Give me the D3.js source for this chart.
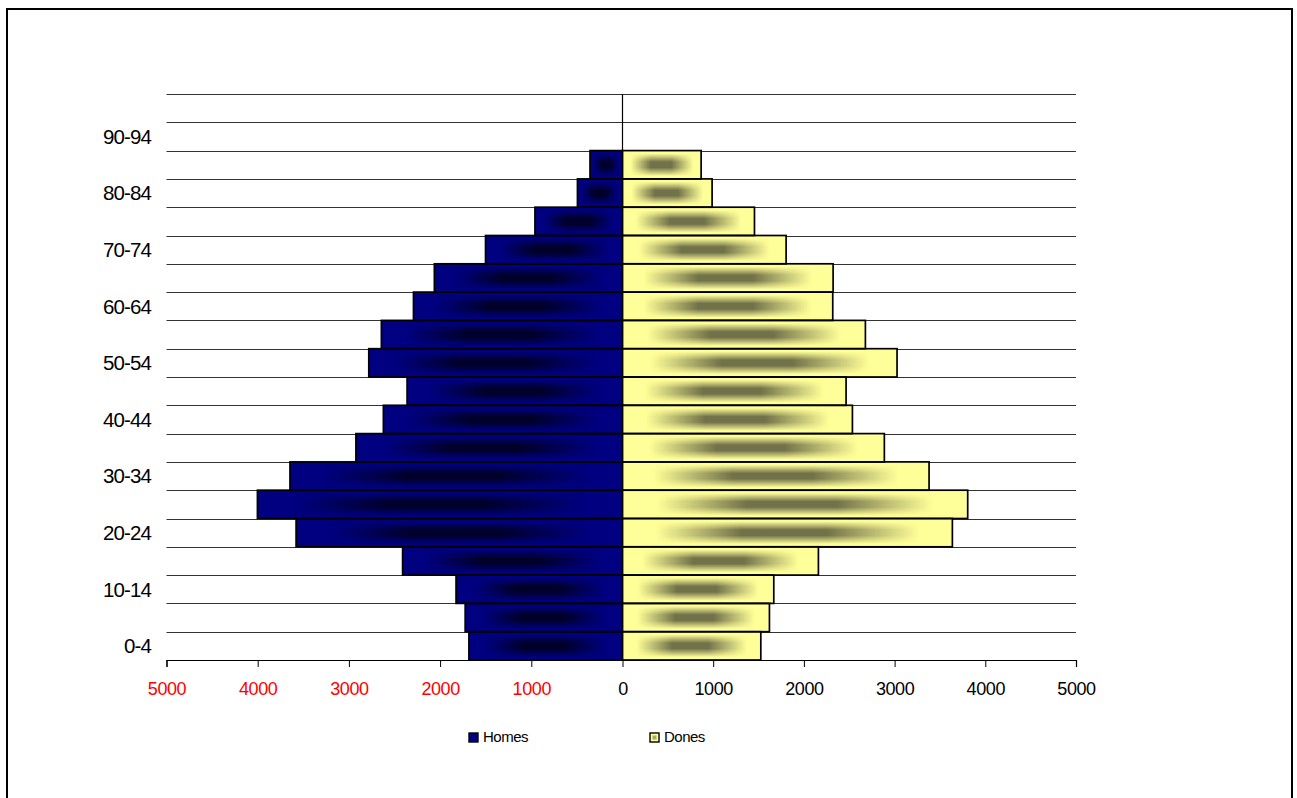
<!DOCTYPE html>
<html>
<head>
<meta charset="utf-8">
<script src="https://cdn.jsdelivr.net/npm/d3@7/dist/d3.min.js"></script>
<style>
  html, body { margin: 0; padding: 0; background: #fff; }
  svg { display: block; font-family: "Liberation Sans", Arial, sans-serif; }
</style>
</head>
<body>
<svg id="chart" width="1297" height="798"></svg>
<script>
// ---- data ----
const ageGroups = ["0-4","5-9","10-14","15-19","20-24","25-29","30-34","35-39","40-44","45-49",
                   "50-54","55-59","60-64","65-69","70-74","75-79","80-84","85-89","90-94","95-99"];
const homes = [1684,1725,1825,2411,3579,4003,3646,2923,2622,2362,2782,2644,2292,2063,1502,960,494,356,0,0];
const dones = [1525,1620,1668,2160,3637,3806,3380,2887,2535,2465,3027,2678,2318,2322,1804,1455,988,867,0,0];
const seriesNames = ["Homes","Dones"];
const xTicks = [-5000,-4000,-3000,-2000,-1000,0,1000,2000,3000,4000,5000];
const shownAgeLabels = ["0-4","10-14","20-24","30-34","40-44","50-54","60-64","70-74","80-84","90-94"];

// ---- layout ----
const svg = d3.select("#chart");
const plot = {left: 166.5, right: 1076, top: 94, bottom: 660};
const x = d3.scaleLinear().domain([-5000, 0, 5000]).range([plot.left, 622.5, plot.right]);
const y = d3.scaleBand().domain(ageGroups.slice().reverse()).range([plot.top, plot.bottom]).padding(0);

const colors = {
  homesBase: "#000080", homesCore: "#00002a",
  donesBase: "#FFFF99", donesCore: "#72724a"
};

// outer frame
svg.append("rect").attr("x", 7).attr("y", 9).attr("width", 1285).attr("height", 820)
  .attr("fill", "none").attr("stroke", "#000").attr("stroke-width", 2);

// defs: shading
const defs = svg.append("defs");
function hGrad(id, color) {
  const g = defs.append("linearGradient").attr("id", id).attr("x1", 0).attr("y1", 0).attr("x2", 1).attr("y2", 0);
  [[0,0],[0.1,0],[0.36,1],[0.62,1],[0.9,0],[1,0]].forEach(([o,a]) =>
    g.append("stop").attr("offset", o).attr("stop-color", color).attr("stop-opacity", a));
}
hGrad("hHomes", colors.homesCore);
hGrad("hDones", colors.donesCore);
const vg = defs.append("linearGradient").attr("id", "vGrad").attr("x1", 0).attr("y1", 0).attr("x2", 0).attr("y2", 1);
[[0,"#000"],[0.1,"#000"],[0.4,"#fff"],[0.6,"#fff"],[0.9,"#000"],[1,"#000"]].forEach(([o,c]) =>
  vg.append("stop").attr("offset", o).attr("stop-color", c));
defs.append("mask").attr("id", "vMask").attr("maskContentUnits", "objectBoundingBox")
  .append("rect").attr("width", 1).attr("height", 1).attr("fill", "url(#vGrad)");

// gridlines at band boundaries
const boundaries = ageGroups.map(a => y(a)).concat([plot.bottom]);
svg.append("g").selectAll("line").data(boundaries).join("line")
  .attr("x1", plot.left).attr("x2", plot.right)
  .attr("y1", d => Math.round(d) + 0.5).attr("y2", d => Math.round(d) + 0.5)
  .attr("stroke", "#333").attr("stroke-width", 1);

// bars
const rows = ageGroups.map((a, i) => ({age: a, h: homes[i], d: dones[i]}));
function drawSeries(key, baseColor, gradId, sign) {
  const data = rows.filter(r => r[key] > 0);
  const g = svg.append("g");
  const rx = r => sign < 0 ? x(-r[key]) : x(0);
  const rw = r => Math.abs(x(sign * r[key]) - x(0));
  g.selectAll("rect.base").data(data).join("rect").attr("class", "base")
    .attr("x", rx).attr("y", r => y(r.age)).attr("width", rw).attr("height", y.bandwidth())
    .attr("fill", baseColor);
  g.selectAll("rect.shade").data(data).join("rect").attr("class", "shade")
    .attr("x", rx).attr("y", r => y(r.age)).attr("width", rw).attr("height", y.bandwidth())
    .attr("fill", `url(#${gradId})`).attr("mask", "url(#vMask)");
  g.selectAll("rect.edge").data(data).join("rect").attr("class", "edge")
    .attr("x", rx).attr("y", r => y(r.age)).attr("width", rw).attr("height", y.bandwidth())
    .attr("fill", "none").attr("stroke", "#000").attr("stroke-width", 1.7);
}
drawSeries("h", colors.homesBase, "hHomes", -1);
drawSeries("d", colors.donesBase, "hDones", 1);

// vertical zero axis
svg.append("line").attr("x1", x(0)).attr("x2", x(0)).attr("y1", plot.top).attr("y2", plot.bottom)
  .attr("stroke", "#000").attr("stroke-width", 1.2);

// x axis
const xAxis = svg.append("g").attr("transform", `translate(0,${plot.bottom})`)
  .call(d3.axisBottom(x).tickValues(xTicks).tickFormat(d => Math.abs(d)).tickSize(7).tickSizeOuter(7).tickPadding(15));
xAxis.select(".domain").attr("stroke", "#000").attr("stroke-width", 1.2);
xAxis.selectAll(".tick line").attr("stroke", "#000");
xAxis.selectAll(".tick text")
  .attr("font-size", 18).attr("font-family", "Liberation Sans, Arial, sans-serif")
  .attr("letter-spacing", -0.4)
  .attr("fill", d => d < 0 ? "#FF0000" : "#000");

// y labels
svg.append("g").selectAll("text").data(shownAgeLabels).join("text")
  .attr("x", 151).attr("y", d => y(d) + y.bandwidth() / 2).attr("dy", "0.36em")
  .attr("text-anchor", "end").attr("font-size", 20.5).attr("letter-spacing", -0.9)
  .attr("fill", "#000").text(d => d);

// legend
const legendItems = [
  {name: seriesNames[0], x: 469, fill: colors.homesBase, inner: colors.homesBase},
  {name: seriesNames[1], x: 650, fill: colors.donesBase, inner: "#a8a86a"}
];
const lg = svg.append("g");
legendItems.forEach(it => {
  lg.append("rect").attr("x", it.x).attr("y", 733).attr("width", 9).attr("height", 9)
    .attr("fill", it.fill).attr("stroke", "#000").attr("stroke-width", 1.4);
  lg.append("rect").attr("x", it.x + 2.5).attr("y", 735.5).attr("width", 4).attr("height", 4)
    .attr("fill", it.inner);
  lg.append("text").attr("x", it.x + 14).attr("y", 742).attr("font-size", 15)
    .attr("letter-spacing", -0.5).attr("fill", "#000").text(it.name);
});
</script>
</body>
</html>
